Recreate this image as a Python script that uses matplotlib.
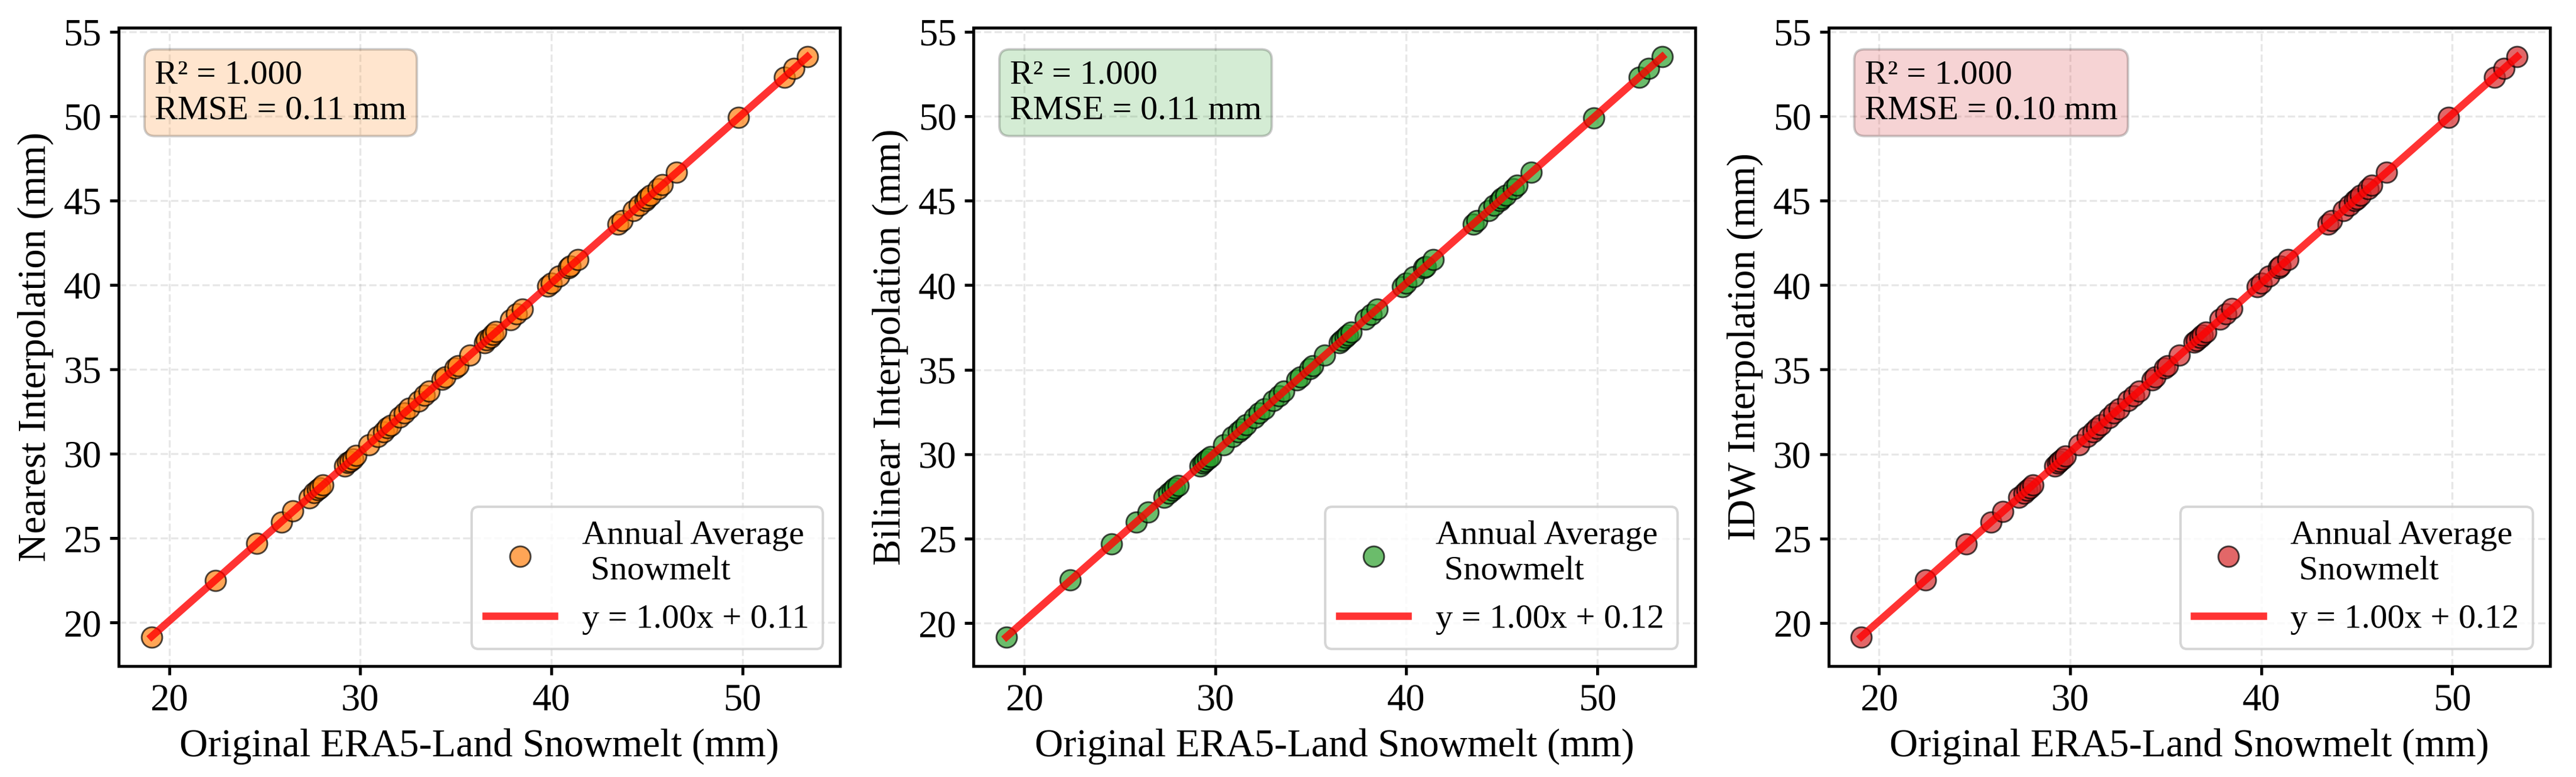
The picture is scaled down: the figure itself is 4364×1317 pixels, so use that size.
import matplotlib
matplotlib.use("Agg")
import matplotlib.pyplot as plt
import numpy as np

plt.rcParams['font.family'] = ['Liberation Serif', 'DejaVu Serif']

# Original ERA5-Land annual average snowmelt (mm)
original = [19.07, 22.42, 24.57, 25.87, 26.47, 27.32, 27.58, 27.75, 27.89, 28.05,
            29.19, 29.35, 29.45, 29.60, 29.76, 30.45, 30.90, 31.21, 31.40, 31.60,
            32.04, 32.30, 32.56, 33.03, 33.34, 33.60, 34.28, 34.45, 34.95, 35.10,
            35.73, 36.50, 36.61, 36.80, 36.93, 37.10, 37.86, 38.17, 38.48, 39.80,
            40.00, 40.40, 40.90, 41.00, 41.40, 43.50, 43.70, 44.30, 44.60, 44.90,
            45.00, 45.20, 45.60, 45.80, 46.55, 49.80, 52.20, 52.70, 53.40]

nearest = [19.15, 22.51, 24.70, 25.96, 26.60, 27.40, 27.71, 27.88, 27.98, 28.17,
           29.28, 29.49, 29.55, 29.70, 29.89, 30.53, 31.02, 31.30, 31.53, 31.70,
           32.16, 32.40, 32.69, 33.12, 33.46, 33.70, 34.40, 34.55, 35.07, 35.20,
           35.84, 36.58, 36.74, 36.90, 37.05, 37.22, 37.95, 38.30, 38.57, 39.92,
           40.10, 40.53, 41.00, 41.13, 41.50, 43.60, 43.82, 44.40, 44.72, 45.00,
           45.12, 45.31, 45.70, 45.93, 46.66, 49.91, 52.30, 52.82, 53.50]

bilinear = [19.18, 22.55, 24.68, 25.99, 26.58, 27.45, 27.69, 27.86, 28.02, 28.16,
            29.31, 29.46, 29.58, 29.72, 29.87, 30.57, 31.03, 31.33, 31.51, 31.73,
            32.15, 32.43, 32.67, 33.16, 33.45, 33.73, 34.39, 34.58, 35.06, 35.23,
            35.85, 36.61, 36.74, 36.91, 37.06, 37.21, 37.99, 38.28, 38.60, 39.91,
            40.13, 40.51, 41.03, 41.11, 41.53, 43.61, 43.83, 44.41, 44.73, 45.01,
            45.13, 45.32, 45.71, 45.92, 46.68, 49.91, 52.31, 52.83, 53.52]

idw = [19.17, 22.54, 24.69, 25.98, 26.59, 27.44, 27.70, 27.87, 28.01, 28.17,
       29.30, 29.47, 29.57, 29.72, 29.88, 30.56, 31.02, 31.33, 31.52, 31.72,
       32.16, 32.42, 32.68, 33.15, 33.46, 33.72, 34.40, 34.57, 35.07, 35.22,
       35.85, 36.62, 36.73, 36.92, 37.05, 37.22, 37.98, 38.29, 38.60, 39.92,
       40.12, 40.52, 41.02, 41.12, 41.52, 43.62, 43.82, 44.42, 44.72, 45.02,
       45.12, 45.32, 45.72, 45.92, 46.67, 49.92, 52.32, 52.82, 53.52]

methods = ["Nearest", "Bilinear", "IDW"]
series = [nearest, bilinear, idw]
colors = ["#ff7f0e", "#2ca02c", "#d62728"]
slopes = [1.00, 1.00, 1.00]
intercepts = [0.11, 0.12, 0.12]
r2_values = [1.000, 1.000, 1.000]
rmse_values = [0.11, 0.11, 0.10]

fig, axes = plt.subplots(1, 3, figsize=(4364 / 300, 1317 / 300), dpi=300)
plt.subplots_adjust(left=0.0461, right=0.9899, bottom=0.1428, top=0.9643, wspace=0.185)

x = np.array(original)
for ax, name, y, color, m, b, r2, rmse in zip(axes, methods, series, colors,
                                               slopes, intercepts, r2_values, rmse_values):
    ax.scatter(x, y, s=70, color=color, alpha=0.7, edgecolor="black", linewidth=0.7,
               label="Annual Average\n Snowmelt", zorder=3)
    xs = np.array([x.min(), x.max()])
    ax.plot(xs, m * xs + b, color="red", alpha=0.8, linewidth=3,
            label=f"y = {m:.2f}x + {b:.2f}", zorder=4)

    ax.set_xlabel("Original ERA5-Land Snowmelt (mm)", fontsize=16)
    ax.set_ylabel(f"{name} Interpolation (mm)", fontsize=16)
    ax.tick_params(labelsize=15.5, width=1.2)
    for spine in ax.spines.values():
        spine.set_linewidth(1.2)
    ax.set_xticks([20, 30, 40, 50])
    ax.set_yticks([20, 25, 30, 35, 40, 45, 50, 55])
    ax.grid(True, linestyle="--", alpha=0.3)

    ax.text(0.05, 0.95, f"R² = {r2:.3f}\nRMSE = {rmse:.2f} mm", transform=ax.transAxes,
            fontsize=14, va="top", ha="left",
            bbox=dict(boxstyle="round", facecolor=color, alpha=0.2))
    ax.legend(loc="lower right", fontsize=14)

plt.savefig("out.png", dpi=300)
